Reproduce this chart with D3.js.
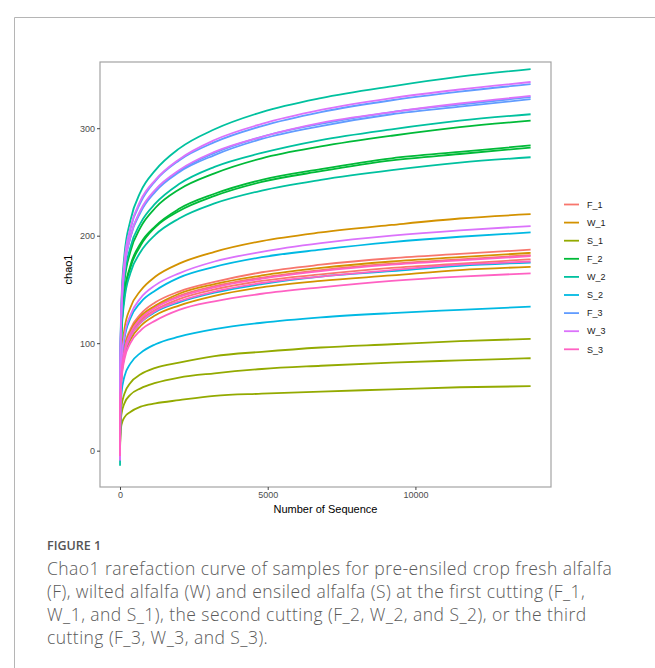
<!DOCTYPE html>
<html>
<head>
<meta charset="utf-8">
<script src="https://cdn.jsdelivr.net/npm/d3@7"></script>
<style>
body { margin: 0; background: #fff; }
</style>
</head>
<body>
<div id="canvas-container"></div>
<script>
var depths = [1, 10, 50, 150, 350, 700, 1200, 2000, 3200, 4800, 6800, 9200, 11500, 13900];

var samples = ["F_1", "W_1", "S_1", "F_2", "W_2", "S_2", "F_3", "W_3", "S_3"];
var colors = ["#F8766D", "#D39200", "#93AA00", "#00BA38", "#00C19F", "#00B9E3", "#619CFF", "#DB72FB", "#FF61C3"];

// chao1 values, three replicates per sample
var F_1 = [
    [-5, 41, 74, 96, 113, 127, 138, 148, 157, 166, 173, 179, 183, 187],
    [-5, 40, 72, 93, 110, 123, 134, 144, 153, 161, 168, 174, 178, 182],
    [-5, 39, 70, 91, 108, 121, 131, 141, 150, 158, 164, 170, 174, 178]
];
var W_1 = [
    [-6, 49, 87, 113, 133, 149, 162, 174, 185, 195, 203, 210, 216, 220],
    [-5, 41, 72, 94, 111, 125, 135, 146, 155, 163, 170, 176, 180, 184],
    [-5, 38, 67, 88, 103, 116, 126, 135, 144, 152, 158, 163, 168, 171]
];
var S_1 = [
    [-3, 23, 41, 53, 63, 71, 77, 82, 88, 92, 96, 99, 102, 104],
    [-2, 19, 34, 44, 52, 58, 63, 68, 72, 76, 79, 82, 84, 86],
    [-2, 13, 24, 31, 36, 41, 44, 47, 51, 53, 55, 57, 59, 60]
];
var F_2 = [
    [-8, 68, 121, 157, 185, 208, 226, 243, 258, 272, 283, 293, 301, 307],
    [-8, 63, 112, 146, 172, 193, 209, 225, 239, 252, 262, 272, 278, 284],
    [-8, 62, 111, 145, 170, 191, 208, 223, 237, 250, 260, 270, 276, 282]
];
var W_2 = [
    [-14, 78, 140, 182, 214, 241, 261, 281, 299, 315, 328, 339, 348, 355],
    [-8, 69, 123, 161, 189, 212, 230, 248, 264, 277, 289, 299, 307, 313],
    [-7, 60, 108, 140, 165, 185, 201, 216, 230, 242, 252, 261, 268, 273]
];
var S_2 = [
    [-5, 45, 80, 104, 123, 138, 149, 161, 171, 180, 187, 194, 199, 203],
    [-5, 39, 69, 90, 106, 119, 129, 138, 147, 155, 162, 167, 172, 175],
    [-4, 30, 53, 69, 81, 91, 99, 106, 113, 119, 124, 128, 131, 134]
];
var F_3 = [
    [-9, 75, 134, 175, 206, 231, 251, 270, 287, 302, 315, 326, 334, 341],
    [-9, 73, 130, 169, 199, 223, 242, 260, 277, 292, 304, 315, 322, 329],
    [-9, 72, 129, 168, 198, 222, 241, 259, 275, 290, 302, 313, 320, 327]
];
var W_3 = [
    [-9, 76, 135, 176, 207, 233, 252, 271, 289, 304, 317, 328, 336, 343],
    [-9, 73, 130, 169, 199, 224, 243, 261, 278, 292, 305, 315, 323, 330],
    [-6, 46, 82, 107, 126, 142, 154, 165, 176, 185, 193, 200, 205, 209]
];
var S_3 = [
    [-5, 40, 71, 93, 109, 123, 133, 143, 152, 160, 167, 173, 177, 181],
    [-5, 39, 69, 90, 106, 119, 130, 139, 148, 156, 162, 168, 173, 176],
    [-4, 36, 65, 85, 100, 112, 121, 131, 139, 146, 152, 158, 162, 165]
];
var series = [F_1, W_1, S_1, F_2, W_2, S_2, F_3, W_3, S_3];

var xTicks = [0, 5000, 10000];
var yTicks = [0, 100, 200, 300];
var xDomain = [-677, 14590];
var yDomain = [-33.8, 361.6];

var captionTitle = "FIGURE 1";
var captionLines = [
    "Chao1 rarefaction curve of samples for pre-ensiled crop fresh alfalfa",
    "(F), wilted alfalfa (W) and ensiled alfalfa (S) at the first cutting (F_1,",
    "W_1, and S_1), the second cutting (F_2, W_2, and S_2), or the third",
    "cutting (F_3, W_3, and S_3)."
];

drawChart();

function drawChart() {
    var w = 655, h = 668;
    var pl = 100, pr = 551, pt = 62, pb = 487;
    var axisFont = "'Liberation Sans', Arial, sans-serif";

    var svg = d3.select("#canvas-container").append("svg")
        .attr("width", w)
        .attr("height", h);

    // card frame
    svg.append("path")
        .attr("d", "M14.5," + h + "V17.5H" + w)
        .attr("fill", "none")
        .attr("stroke", "#b5b5b5")
        .attr("stroke-width", 1);

    var x = d3.scaleLinear().domain(xDomain).range([pl, pr]);
    var y = d3.scaleLinear().domain(yDomain).range([pb, pt]);

    svg.append("clipPath").attr("id", "panel")
        .append("rect")
        .attr("x", pl).attr("y", pt)
        .attr("width", pr - pl).attr("height", pb - pt);

    var line = d3.line()
        .x(function(d, i) { return x(depths[i]); })
        .y(function(d) { return y(d); })
        .curve(d3.curveMonotoneX);

    var g = svg.append("g").attr("clip-path", "url(#panel)");
    for (var s = 0; s < series.length; s++) {
        for (var r = 0; r < series[s].length; r++) {
            g.append("path")
                .attr("d", line(series[s][r]))
                .attr("fill", "none")
                .attr("stroke", colors[s])
                .attr("stroke-width", 1.8);
        }
    }

    svg.append("rect")
        .attr("x", pl).attr("y", pt)
        .attr("width", pr - pl).attr("height", pb - pt)
        .attr("fill", "none")
        .attr("stroke", "#a3a3a3")
        .attr("stroke-width", 1.2);

    var ya = svg.append("g")
        .attr("transform", "translate(" + pl + ",0)")
        .call(d3.axisLeft(y).tickValues(yTicks).tickSize(3).tickPadding(2));
    var xa = svg.append("g")
        .attr("transform", "translate(0," + pb + ")")
        .call(d3.axisBottom(x).tickValues(xTicks).tickSize(3).tickPadding(2).tickFormat(d3.format("d")));

    [ya, xa].forEach(function(a) {
        a.select(".domain").remove();
        a.selectAll(".tick line").attr("stroke", "#444");
        a.selectAll(".tick text")
            .attr("fill", "#4d4d4d")
            .style("font-family", axisFont)
            .style("font-size", "9px");
    });

    svg.append("text")
        .attr("x", (pl + pr) / 2)
        .attr("y", 513)
        .attr("text-anchor", "middle")
        .style("font-family", axisFont)
        .style("font-size", "11px")
        .text("Number of Sequence");

    svg.append("text")
        .attr("transform", "translate(72," + ((pt + pb) / 2 - 5) + ") rotate(-90)")
        .attr("text-anchor", "middle")
        .style("font-family", axisFont)
        .style("font-size", "11px")
        .text("chao1");

    // legend
    var leg = svg.append("g");
    for (var i = 0; i < samples.length; i++) {
        var ly = 204.5 + i * 18.1;
        leg.append("line")
            .attr("x1", 564).attr("x2", 579)
            .attr("y1", ly).attr("y2", ly)
            .attr("stroke", colors[i])
            .attr("stroke-width", 1.8);
        leg.append("text")
            .attr("x", 587).attr("y", ly + 3.2)
            .attr("fill", "#1a1a1a")
            .style("font-family", axisFont)
            .style("font-size", "9px")
            .text(samples[i]);
    }

    // caption
    svg.append("text")
        .attr("x", 47).attr("y", 550)
        .attr("fill", "#555")
        .style("font-family", "'Open Sans', sans-serif")
        .style("font-size", "12.5px")
        .style("font-weight", 600)
        .text(captionTitle);

    svg.selectAll("text.cap")
        .data(captionLines)
        .enter().append("text")
        .attr("class", "cap")
        .attr("x", 47)
        .attr("y", function(d, i) { return 575 + i * 23; })
        .attr("fill", "#5a5a5a")
        .style("font-family", "'Open Sans', sans-serif")
        .style("font-size", "17.5px")
        .style("letter-spacing", "0.45px")
        .style("font-weight", 300)
        .text(function(d) { return d; });
}
</script>
</body>
</html>
